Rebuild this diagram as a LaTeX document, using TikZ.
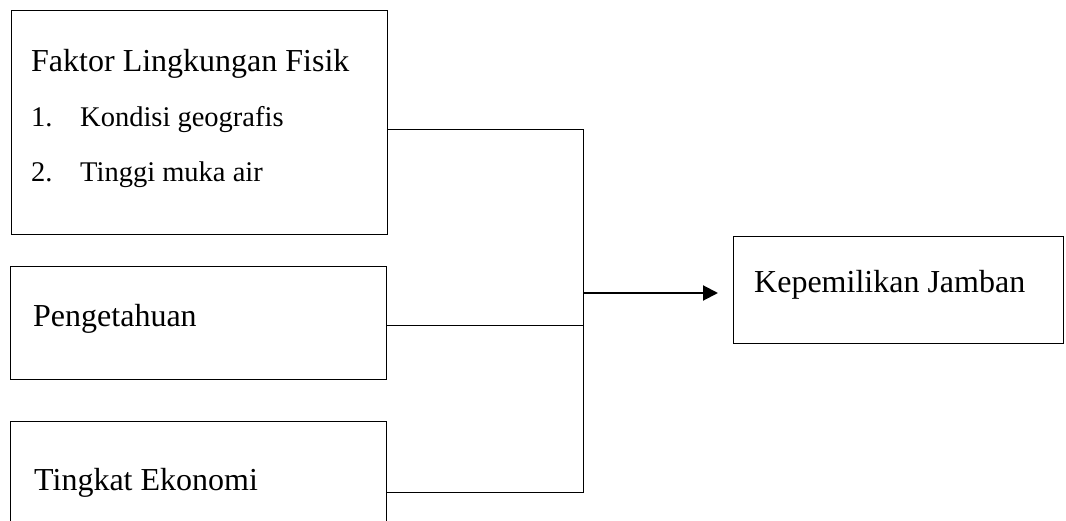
\documentclass[tikz,border=0pt]{standalone}
\usepackage{fontspec}
\setmainfont{Liberation Serif}
\usetikzlibrary{arrows.meta}
\begin{document}
\begin{tikzpicture}[x=1pt,y=-1pt,
  box/.style={draw,line width=1pt,anchor=north west,inner sep=0pt,outer sep=0pt},
  lbl/.style={anchor=base west,inner sep=0pt,font=\fontsize{32}{38}\selectfont},
  item/.style={anchor=base west,inner sep=0pt,font=\fontsize{28.5}{34}\selectfont},
  conn/.style={line width=1pt},
  arr/.style={line width=2pt,-{Triangle[length=15pt,width=15pt]}}]
\useasboundingbox (0,0) rectangle (1066,521);
\clip (0,0) rectangle (1066,521);
\node[box,minimum width=376pt,minimum height=224pt] (b1) at (11,11) {};
\node[box,minimum width=376pt,minimum height=113pt] (b2) at (10,267) {};
\node[box,minimum width=376pt,minimum height=130pt] (b3) at (10,421) {};
\node[box,minimum width=330pt,minimum height=107pt] (b4) at (733,237) {};
\node[lbl] (t1) at (31,72) {Faktor Lingkungan Fisik};
\node[item] (n1) at (31,127) {1.};
\node[item] (i1) at (80,127) {Kondisi geografis};
\node[item] (n2) at (31,182) {2.};
\node[item] (i2) at (80,182) {Tinggi muka air};
\node[lbl] (t2) at (33,327) {Pengetahuan};
\node[lbl] (t3) at (34,490) {Tingkat Ekonomi};
\node[lbl] (t4) at (754,293) {Kepemilikan Jamban};
\coordinate (j1) at (583,130);
\coordinate (j2) at (583,326);
\coordinate (j3) at (583,492);
\coordinate (ja) at (583,293);
\draw[conn] (b1.east |- j1) -- (j1) -- (j3) -- (b3.east |- j3);
\draw[conn] (b2.east |- j2) -- (j2);
\draw[arr] (ja) -- ([xshift=-15pt]b4.west |- ja);
\end{tikzpicture}
\end{document}
